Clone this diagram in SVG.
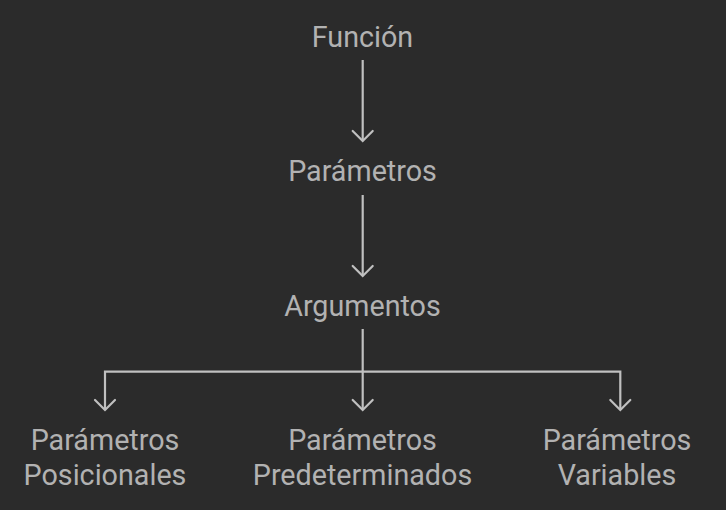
<svg xmlns="http://www.w3.org/2000/svg" width="726" height="510" viewBox="0 0 726 510">
  <style>
    .lbl { font-family: Roboto, "Liberation Sans", sans-serif; font-size: 28.7px; fill: #b2b2b2; text-anchor: middle; }
    .edge { fill: none; stroke: #c0c0c0; stroke-width: 2.2; stroke-linecap: butt; }
    .head { fill: none; stroke: #c0c0c0; stroke-width: 2.2; stroke-linecap: round; stroke-linejoin: miter; }
  </style>
  <rect width="726" height="510" fill="#2b2b2b"/>
  <g id="connectors">
    <path class="edge" d="M362.7 60 V141"/>
    <path class="head" d="M352.7 131 L362.7 141 L372.7 131"/>
    <path class="edge" d="M362.7 195 V276"/>
    <path class="head" d="M352.7 266 L362.7 276 L372.7 266"/>
    <path class="edge" d="M362.7 329 V410"/>
    <path class="head" d="M352.7 400 L362.7 410 L372.7 400"/>
    <path class="edge" d="M105 410 V371.7 H620.3 V410"/>
    <path class="head" d="M95 400 L105 410 L115 400"/>
    <path class="head" d="M610.3 400 L620.3 410 L630.3 400"/>
  </g>
  <g id="funcion"><text class="lbl" x="362.5" y="46.5">Función</text></g>
  <g id="parametros"><text class="lbl" x="362.5" y="181.3">Parámetros</text></g>
  <g id="argumentos"><text class="lbl" x="362.5" y="316.2">Argumentos</text></g>
  <g id="posicionales"><text class="lbl" x="105" y="450.2">Parámetros</text><text class="lbl" x="105" y="485.3">Posicionales</text></g>
  <g id="predeterminados"><text class="lbl" x="362.5" y="450.2">Parámetros</text><text class="lbl" x="362.5" y="485.3">Predeterminados</text></g>
  <g id="variables"><text class="lbl" x="617" y="450.2">Parámetros</text><text class="lbl" x="617" y="485.3">Variables</text></g>
</svg>
